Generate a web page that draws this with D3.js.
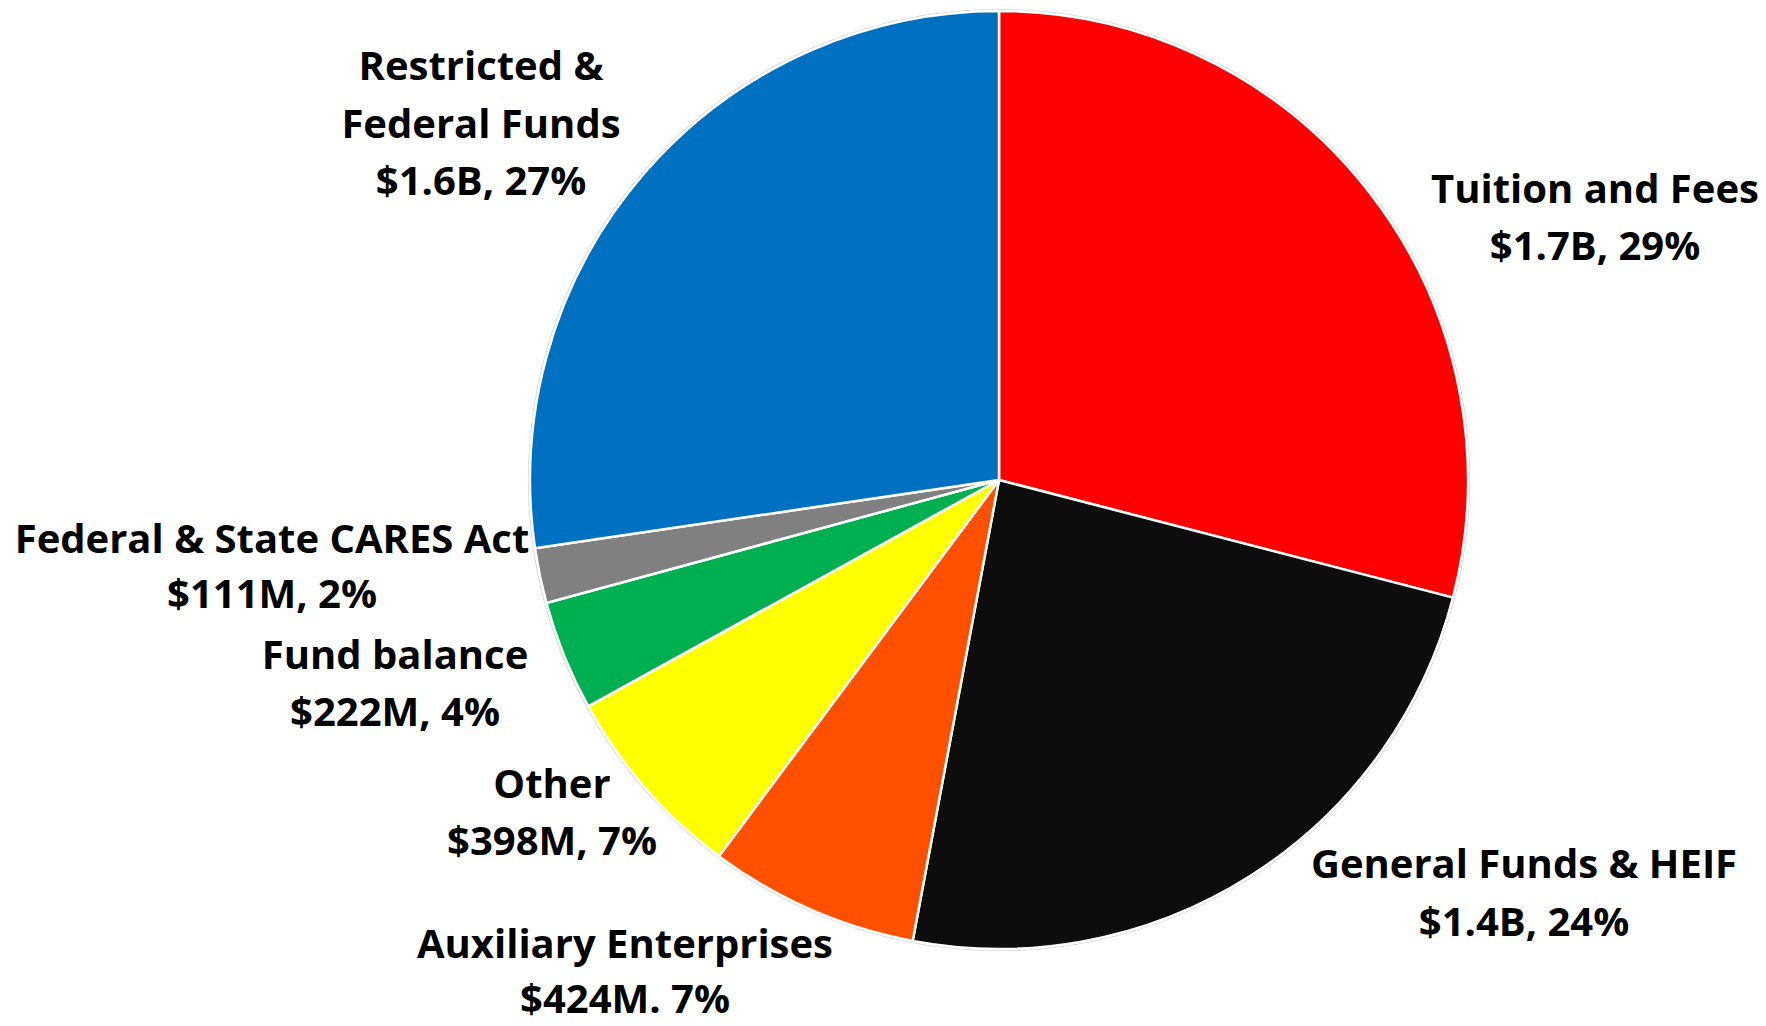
<!DOCTYPE html>
<html>
<head>
<meta charset="utf-8">
<script src="https://cdn.jsdelivr.net/npm/d3@7"></script>
<style>
  html, body { margin: 0; padding: 0; background: #ffffff; }
  svg { display: block; }
  .lbl { font-family: "Open Sans", Lato, sans-serif; font-weight: 700; fill: #000; }
</style>
</head>
<body>
<svg id="chart" width="1766" height="1026"></svg>
<script>
// Budget sources, in millions of dollars, clockwise from 12 o'clock
const categories = ["Tuition and Fees", "General Funds & HEIF", "Auxiliary Enterprises", "Other",
                    "Fund balance", "Federal & State CARES Act", "Restricted & Federal Funds"];
const amounts = [1700, 1400, 424, 398, 222, 111, 1600];
const nameLines = [["Tuition and Fees"], ["General Funds & HEIF"], ["Auxiliary Enterprises"], ["Other"],
                   ["Fund balance"], ["Federal & State CARES Act"], ["Restricted &", "Federal Funds"]];
const valueLines = ["$1.7B, 29%", "$1.4B, 24%", "$424M. 7%", "$398M, 7%", "$222M, 4%", "$111M, 2%", "$1.6B, 27%"];
const colors = ["#ff0000", "#0d0d0d", "#ff5000", "#ffff00", "#00b050", "#808080", "#0070c0"];

const data = categories.map((c, i) => ({ name: c, value: amounts[i], lines: nameLines[i].concat([valueLines[i]]) }));

const svg = d3.select("#chart");
const cx = 999, cy = 480, R = 469;

const color = d3.scaleOrdinal().domain(categories).range(colors);
const pie = d3.pie().sort(null).value(d => d.value).startAngle(0).endAngle(2 * Math.PI);
const arc = d3.arc().innerRadius(0).outerRadius(R);

const g = svg.append("g").attr("transform", `translate(${cx},${cy})`);

// faint rim around the disc
g.append("circle").attr("r", R + 1.5).attr("fill", "none").attr("stroke", "#d6d6d6").attr("stroke-width", 1.2);

g.selectAll("path.slice")
  .data(pie(data))
  .join("path")
  .attr("class", "slice")
  .attr("d", arc)
  .attr("fill", d => color(d.data.name))
  .attr("stroke", "#ffffff")
  .attr("stroke-width", 2.5)
  .attr("stroke-linejoin", "round");

// label anchors: centre x and first baseline, with line step
const labelPos = {
  "Tuition and Fees": [1595, 203, 57],
  "General Funds & HEIF": [1524, 878, 58],
  "Auxiliary Enterprises": [625, 958, 55],
  "Other": [552, 798, 57],
  "Fund balance": [395, 669, 57],
  "Federal & State CARES Act": [272, 553, 55],
  "Restricted & Federal Funds": [481, 80, 57.5]
};

const labels = svg.selectAll("text.lbl")
  .data(data)
  .join("text")
  .attr("class", "lbl")
  .attr("text-anchor", "middle")
  .attr("font-size", 40);

labels.each(function(d) {
  const [x, y, step] = labelPos[d.name];
  d3.select(this).selectAll("tspan")
    .data(d.lines)
    .join("tspan")
    .attr("x", x)
    .attr("y", (s, i) => y + i * step)
    .text(s => s);
});
</script>
</body>
</html>
